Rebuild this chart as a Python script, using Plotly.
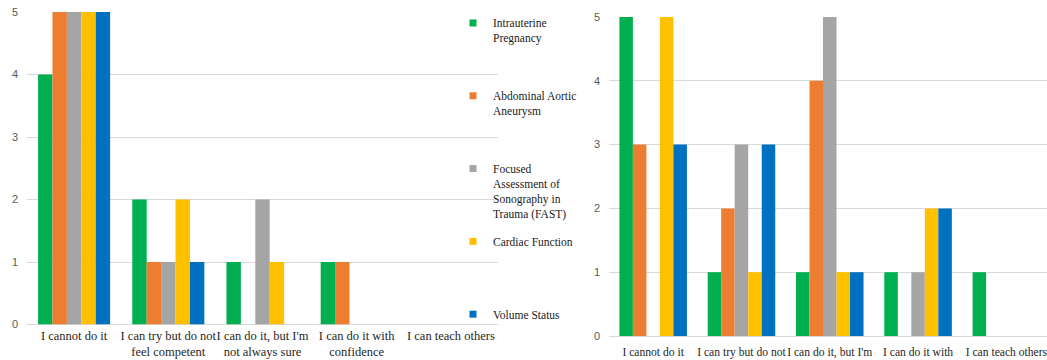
import plotly.graph_objects as go

# Self-rated ability levels (x categories)
categories = [
    "I cannot do it",
    "I can try but do not<br>feel competent",
    "I can do it, but I'm<br>not always sure",
    "I can do it with<br>confidence",
    "I can teach others",
]

# Ultrasound applications (series)
series_names = [
    "Intrauterine Pregnancy",
    "Abdominal Aortic Aneurysm",
    "Focused Assessment of Sonography in Trauma (FAST)",
    "Cardiac Function",
    "Volume Status",
]
legend_labels = [
    "Intrauterine<br>Pregnancy",
    "Abdominal Aortic<br>Aneurysm",
    "Focused<br>Assessment of<br>Sonography in<br>Trauma (FAST)",
    "Cardiac Function",
    "Volume Status",
]
colors = ["#00B050", "#ED7D31", "#A5A5A5", "#FFC000", "#0070C0"]

# Counts per category, left panel
left_iup = [4, 2, 1, 1, 0]
left_aaa = [5, 1, 0, 1, 0]
left_fast = [5, 1, 2, 0, 0]
left_cardiac = [5, 2, 1, 0, 0]
left_volume = [5, 1, 0, 0, 0]

# Counts per category, right panel
right_iup = [5, 1, 1, 1, 1]
right_aaa = [3, 2, 4, 0, 0]
right_fast = [0, 3, 5, 1, 0]
right_cardiac = [5, 1, 1, 2, 0]
right_volume = [3, 3, 1, 2, 0]

left_values = [left_iup, left_aaa, left_fast, left_cardiac, left_volume]
right_values = [right_iup, right_aaa, right_fast, right_cardiac, right_volume]

W, H = 1047, 360
LINES_PER_ENTRY = 4

fig = go.Figure()

for i, name in enumerate(series_names):
    fig.add_trace(go.Bar(
        x=categories, y=left_values[i], name=name,
        marker=dict(color=colors[i], line=dict(width=0)),
        xaxis="x", yaxis="y", showlegend=False,
    ))
for i, name in enumerate(series_names):
    fig.add_trace(go.Bar(
        x=categories, y=right_values[i], name=name,
        marker=dict(color=colors[i], line=dict(width=0)),
        xaxis="x2", yaxis="y2", showlegend=False,
    ))

# Legend entries with small square keys; labels padded to equal height
# (the last entry needs no padding)
for i, label in enumerate(legend_labels):
    n = label.count("<br>") + 1
    pad = 0 if i == len(legend_labels) - 1 else max(0, LINES_PER_ENTRY - n)
    fig.add_trace(go.Scatter(
        x=[None], y=[None], mode="markers", name=label + "<br> " * pad,
        marker=dict(symbol="square", size=7, color=colors[i]),
        xaxis="x", yaxis="y", legendgroup=series_names[i], showlegend=True,
    ))


def ydom(px_zero, px_top):
    return [(H - px_zero) / H, (H - px_top) / H]


left_tick_font = dict(family="Liberation Serif", size=12.5, color="#262626")
right_tick_font = dict(family="Liberation Serif", size=11.6, color="#262626")
ytick_font = dict(family="Liberation Sans", size=11, color="#595959")

fig.update_layout(
    width=W, height=H,
    margin=dict(l=0, r=0, t=0, b=0, autoexpand=False),
    paper_bgcolor="white", plot_bgcolor="white",
    barmode="group", bargap=0.235, bargroupgap=0,
    showlegend=True,
    legend=dict(
        x=453 / W, y=1 - 9 / H, xanchor="left", yanchor="top",
        valign="top", tracegroupgap=10,
        font=dict(family="Liberation Serif", size=11.5, color="#1a1a1a"),
        bgcolor="rgba(0,0,0,0)", itemwidth=30,
    ),
    xaxis=dict(
        domain=[27 / W, 498 / W], range=[-0.5, 4.5], anchor="y",
        showgrid=False, showline=False, ticks="", tickfont=left_tick_font,
        tickangle=0, automargin=False, ticklabelstandoff=2,
    ),
    yaxis=dict(
        domain=ydom(324.5, 12), range=[0, 5], dtick=1, anchor="x",
        showgrid=True, gridcolor="#D9D9D9", gridwidth=1,
        zeroline=True, zerolinecolor="#D9D9D9", zerolinewidth=1,
        showline=False, ticks="", tickfont=ytick_font,
        ticklabelstandoff=8, automargin=False,
    ),
    xaxis2=dict(
        domain=[609 / W, 1.0], range=[-0.5, 4.46], anchor="y2",
        showgrid=False, showline=False, ticks="", tickfont=right_tick_font,
        tickangle=0, automargin=False, ticklabelstandoff=7,
    ),
    yaxis2=dict(
        domain=ydom(336, 17), range=[0, 5], dtick=1, anchor="x2",
        showgrid=True, gridcolor="#D9D9D9", gridwidth=1,
        zeroline=True, zerolinecolor="#D9D9D9", zerolinewidth=1,
        showline=False, ticks="", tickfont=ytick_font,
        ticklabelstandoff=8, automargin=False,
    ),
)

fig.write_html("out.html")
